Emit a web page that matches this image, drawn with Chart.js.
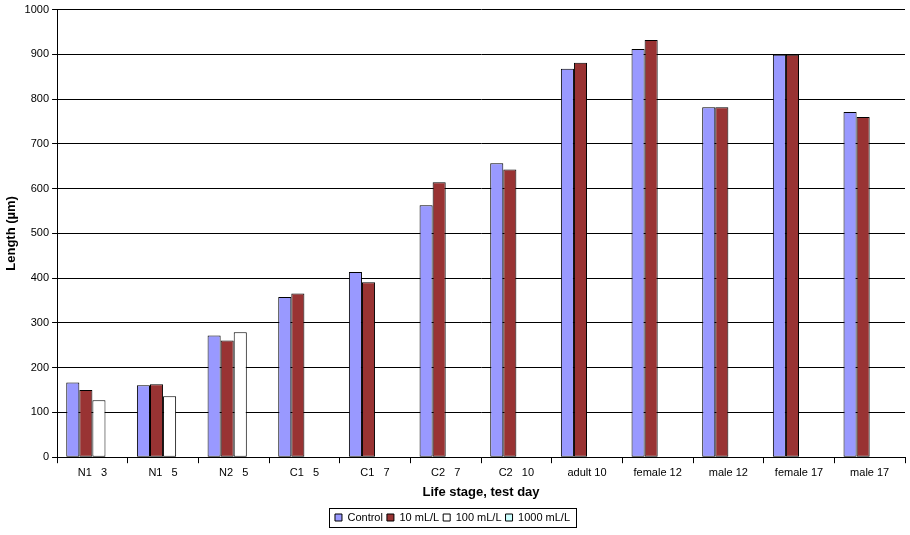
<!DOCTYPE html>
<html><head><meta charset="utf-8">
<script src="https://cdn.jsdelivr.net/npm/chart.js@4"></script>
<style>html,body{margin:0;padding:0;background:#fff}#w{width:910px;height:535px}</style>
</head><body><div id="w"><canvas id="c"></canvas></div>
<script>
const categories=["N1   3","N1   5","N2   5","C1   5","C1   7","C2   7","C2   10","adult 10","female 12","male 12","female 17","male 17"];
const control=[167,161,272,358,414,563,657,868,912,782,899,771];
const ml10=[150,163,261,366,391,614,643,881,932,782,899,760];
const ml100=[127,136,279,null,null,null,null,null,null,null,null,null];
const ml1000=[null,null,null,null,null,null,null,null,null,null,null,null];
const yTicks=[0,100,200,300,400,500,600,700,800,900,1000];
Chart.defaults.font.family="'Liberation Sans', Arial, sans-serif";
Chart.defaults.font.size=11;
Chart.defaults.color="#000";
const legendFrame={id:'lf',afterDraw(ch){const l=ch.legend;const hb=l.legendHitBoxes;if(!hb||!hb.length)return;
let x0=Math.min(...hb.map(b=>b.left))-6,x1=Math.max(...hb.map(b=>b.left+b.width))+6;
let y0=Math.min(...hb.map(b=>b.top))-4,y1=Math.max(...hb.map(b=>b.top+b.height))+4;
const ctx=ch.ctx;ctx.save();ctx.strokeStyle='#000';ctx.lineWidth=1;ctx.strokeRect(Math.round(x0)+0.5,Math.round(y0)+0.5,Math.round(x1-x0),Math.round(y1-y0));ctx.restore();}};
const ds=(label,data,color)=>({label,data,backgroundColor:color,borderColor:'#000',borderWidth:1,borderSkipped:false,categoryPercentage:0.74,barPercentage:1});
new Chart(document.getElementById('c'),{type:'bar',
data:{labels:categories,datasets:[ds('Control',control,'#9999ff'),ds('10 mL/L',ml10,'#993333'),ds('100 mL/L',ml100,'#ffffff'),ds('1000 mL/L',ml1000,'#ccffff')]},
options:{responsive:true,maintainAspectRatio:false,animation:false,
layout:{padding:{left:0,right:5,top:0,bottom:2}},
plugins:{tooltip:{enabled:false},legend:{position:'bottom',align:'center',maxWidth:260,
labels:{boxWidth:7,boxHeight:7,padding:4,font:{size:11},generateLabels(ch){return ch.data.datasets.map((d,i)=>({text:d.label,fillStyle:d.backgroundColor,strokeStyle:'#000',lineWidth:1,datasetIndex:i}));}}}},
scales:{
x:{grid:{display:true,drawOnChartArea:false,color:'#000',tickLength:6,offset:true},border:{color:'#000'},ticks:{font:{size:11},maxRotation:0,padding:3},
title:{display:true,text:'Life stage, test day',font:{size:13,weight:'bold'},padding:{top:2,bottom:8}}},
y:{min:0,max:1000,afterBuildTicks(a){a.ticks=yTicks.map(v=>({value:v}));},grid:{color:'#000',tickLength:5},border:{color:'#000'},ticks:{font:{size:11},padding:3,callback:v=>String(v)},
title:{display:true,text:'Length (\u00b5m)',font:{size:13,weight:'bold'},padding:{bottom:2}}}}},
plugins:[legendFrame]});
</script></body></html>
